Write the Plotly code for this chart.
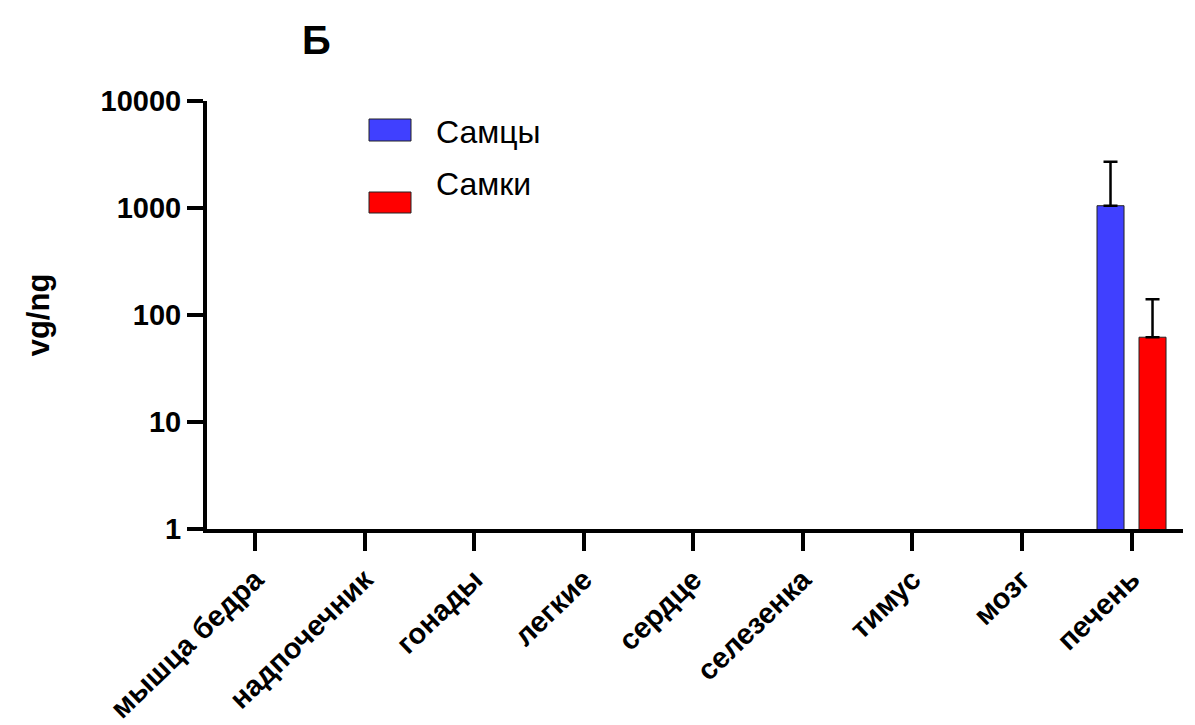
import plotly.graph_objects as go

categories = ["мышца бедра", "надпочечник", "гонады", "легкие", "сердце",
              "селезенка", "тимус", "мозг", "печень"]
males = [None, None, None, None, None, None, None, None, 1050]
males_err = [0, 0, 0, 0, 0, 0, 0, 0, 1650]
females = [None, None, None, None, None, None, None, None, 62]
females_err = [0, 0, 0, 0, 0, 0, 0, 0, 78]
y_ticks = [1, 10, 100, 1000, 10000]
y_tick_text = ["1", "10", "100", "1000", "10000"]

FONT = "Arial, Liberation Sans, sans-serif"
BLUE = "#4040ff"
RED = "#ff0000"

fig = go.Figure()
fig.add_trace(go.Bar(
    x=categories, y=males, name="Самцы",
    marker=dict(color=BLUE, line=dict(color="#222222", width=1)),
    error_y=dict(type="data", array=males_err, arrayminus=[0]*9, symmetric=False,
                 color="black", thickness=2.5, width=7),
))
fig.add_trace(go.Bar(
    x=categories, y=females, name="Самки",
    marker=dict(color=RED, line=dict(color="#222222", width=1)),
    error_y=dict(type="data", array=females_err, arrayminus=[0]*9, symmetric=False,
                 color="black", thickness=2.5, width=7),
))

fig.update_layout(
    width=1195, height=725,
    margin=dict(l=207, r=12, t=101, b=196),
    plot_bgcolor="white", paper_bgcolor="white",
    barmode="group", bargap=0.233, bargroupgap=0.357,
    showlegend=False,
    font=dict(family=FONT, color="black"),
)
fig.update_xaxes(
    range=[-0.44, 8.47], automargin=False,
    showline=True, linecolor="black", linewidth=4,
    ticks="outside", ticklen=18, tickwidth=4, tickcolor="black",
    tickangle=-44,
    tickfont=dict(family=FONT, size=29, color="black", weight="bold"),
    showgrid=False, zeroline=False,
)
fig.update_yaxes(
    type="log", range=[0, 4], automargin=False,
    tickvals=y_ticks, ticktext=y_tick_text,
    showline=True, linecolor="black", linewidth=4,
    ticks="outside", ticklen=16, tickwidth=4, tickcolor="black",
    tickfont=dict(family=FONT, size=29, color="black", weight="bold"),
    showgrid=False, zeroline=False,
    title=dict(text="vg/ng", font=dict(family=FONT, size=31, color="black", weight="bold"),
               standoff=43),
)

# legend drawn manually
fig.add_shape(type="rect", xref="paper", yref="paper",
              x0=(369-207)/976, x1=(411-207)/976,
              y0=(529-141)/428, y1=(529-119)/428,
              fillcolor=BLUE, line=dict(color="#222222", width=1))
fig.add_shape(type="rect", xref="paper", yref="paper",
              x0=(369-207)/976, x1=(411-207)/976,
              y0=(529-213)/428, y1=(529-192)/428,
              fillcolor=RED, line=dict(color="#222222", width=1))
fig.add_annotation(xref="paper", yref="paper", x=(434-207)/976, y=(529-132)/428,
                   text="Самцы", showarrow=False, xanchor="left", yanchor="middle",
                   font=dict(family=FONT, size=32, color="black"))
fig.add_annotation(xref="paper", yref="paper", x=(434-207)/976, y=(529-184)/428,
                   text="Самки", showarrow=False, xanchor="left", yanchor="middle",
                   font=dict(family=FONT, size=32, color="black"))
fig.add_annotation(xref="paper", yref="paper", x=(316-207)/976, y=(529-40)/428,
                   text="Б", showarrow=False, xanchor="center", yanchor="middle",
                   font=dict(family=FONT, size=40, color="black", weight="bold"))

fig.write_html("out.html")
